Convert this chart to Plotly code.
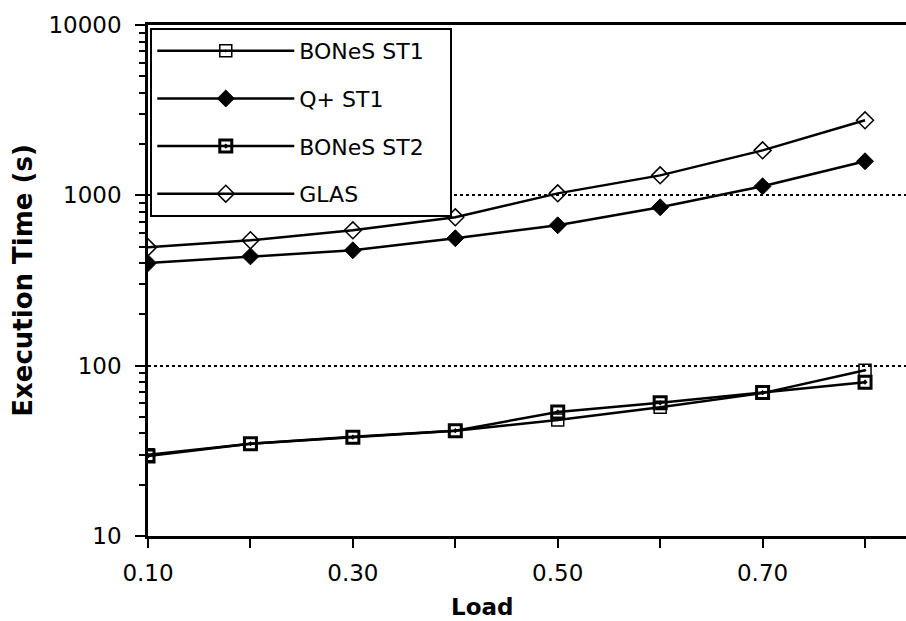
import plotly.graph_objects as go

load = [0.1, 0.2, 0.3, 0.4, 0.5, 0.6, 0.7, 0.8]
bones_st1 = [30, 34.8, 38.3, 41.5, 48, 57, 69, 94]
qplus_st1 = [400, 438, 476, 560, 667, 851, 1130, 1585]
bones_st2 = [29.5, 34.8, 38, 41.5, 53.5, 60.5, 69.5, 80]
glas = [495, 545, 623, 743, 1027, 1310, 1837, 2757]

x_tickvals = [0.1, 0.2, 0.3, 0.4, 0.5, 0.6, 0.7, 0.8]
x_ticktext = ["0.10", "", "0.30", "", "0.50", "", "0.70", ""]
y_tickvals = [10, 100, 1000, 10000]
y_ticktext = ["10", "100", "1000", "10000"]
y_minor = [v * m for v in [10, 100, 1000] for m in range(2, 10)]

FONT = "DejaVu Sans"
PAD = "\u00a0\u00a0\u00a0"

fig = go.Figure()
series = [
    ("BONeS ST1", bones_st1, dict(symbol="square-open-dot", size=12, color="black", line=dict(width=1.5, color="black"))),
    ("Q+ ST1", qplus_st1, dict(symbol="diamond", size=13, color="black", line=dict(width=1, color="black"))),
    ("BONeS ST2", bones_st2, dict(symbol="square-open-dot", size=12, color="black", line=dict(width=3, color="black"))),
    ("GLAS", glas, dict(symbol="diamond-open", size=13, color="black", line=dict(width=1.5, color="black"))),
]
for name, vals, mk in series:
    fig.add_trace(go.Scatter(
        x=load, y=vals, name=name + PAD, mode="lines+markers",
        line=dict(color="black", width=2.5), marker=mk, legendgroup=name,
    ))

fig.update_layout(
    width=906, height=621,
    margin=dict(l=148, r=0, t=25, b=85),
    paper_bgcolor="white", plot_bgcolor="white",
    font=dict(family=FONT, size=20, color="black"),
    showlegend=True,
    legend=dict(
        x=0.003, y=0.994, xanchor="left", yanchor="top",
        bgcolor="white", bordercolor="black", borderwidth=2,
        font=dict(family=FONT, size=22, color="black"),
        tracegroupgap=16, itemwidth=137,
    ),
    xaxis=dict(
        range=[0.1, 0.84], tickvals=x_tickvals, ticktext=x_ticktext,
        ticks="outside", ticklen=9, tickwidth=2, tickcolor="black",
        showline=True, linecolor="black", linewidth=3, mirror=True,
        showgrid=False, zeroline=False, ticklabelstandoff=5,
        tickfont=dict(family=FONT, size=23),
    ),
    yaxis=dict(
        type="log", range=[1, 4], tickvals=y_tickvals, ticktext=y_ticktext,
        ticks="outside", ticklen=10, tickwidth=2, tickcolor="black",
        showline=True, linecolor="black", linewidth=2.5,
        showgrid=True, gridcolor="black", gridwidth=2, griddash="dot",
        zeroline=False, ticklabelstandoff=9,
        tickfont=dict(family=FONT, size=23),
        title=dict(text="<b>Execution Time (s)</b>", font=dict(family=FONT, size=26), standoff=9),
        minor=dict(tickvals=y_minor, ticks="outside", ticklen=6, tickwidth=2, tickcolor="black", showgrid=False),
    ),
    annotations=[dict(
        text="<b>Load</b>", xref="paper", yref="paper", x=0.44, y=-0.139,
        xanchor="center", yanchor="middle", showarrow=False,
        font=dict(family=FONT, size=23, color="black"),
    )],
)

fig.write_html(
    "out.html",
    config={"displayModeBar": False},
    post_script="document.body.style.margin='0';document.body.style.overflow='hidden';",
)
